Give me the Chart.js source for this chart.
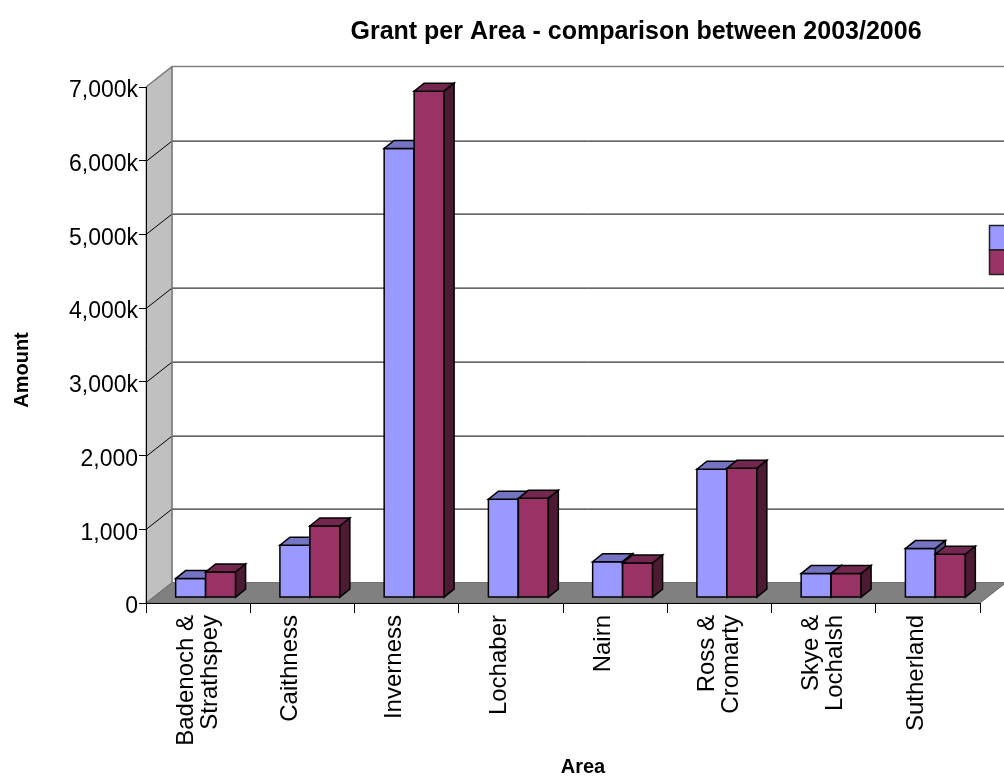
<!DOCTYPE html>
<html lang="en">
<head>
<meta charset="UTF-8">
<title>Grant per Area</title>
<script src="https://cdn.jsdelivr.net/npm/chart.js"></script>
<style>
  html, body { margin: 0; padding: 0; background: #fff; overflow: hidden; }
</style>
</head>
<body>
<canvas id="grantChart" width="1004" height="778"></canvas>
<script>
// grant per area, two years
const areas = [['Badenoch &', 'Strathspey'], 'Caithness', 'Inverness', 'Lochaber', 'Nairn',
               ['Ross &', 'Cromarty'], ['Skye &', 'Lochalsh'], 'Sutherland'];
const grant2003 = [258, 710, 6092, 1334, 488, 1741, 326, 665];
const grant2006 = [347, 971, 6870, 1347, 469, 1754, 326, 588];
const seriesNames = ['2003', '2006'];
const amountTicks = ['0', '1,000', '2,000', '3,000k', '4,000k', '5,000k', '6,000k', '7,000k'];

const FONT = "'Liberation Sans', Arial, sans-serif";
const BLUE = '#9999ff';
const PLUM = '#993366';

// oblique depth of the walls, where the bars stand, and how deep they are
const WALL = { dx: 26, dy: -20.4 };
const BAR_SHIFT = { dx: 7.5, dy: -5.4 };
const BAR_DEPTH = { dx: 10, dy: -8 };

function shade(hex, f) {
  const n = parseInt(hex.slice(1), 16);
  const r = Math.round(((n >> 16) & 255) * f);
  const g = Math.round(((n >> 8) & 255) * f);
  const b = Math.round((n & 255) * f);
  return 'rgb(' + r + ',' + g + ',' + b + ')';
}

function poly(ctx, pts, fill, stroke) {
  ctx.beginPath();
  ctx.moveTo(pts[0][0], pts[0][1]);
  for (let i = 1; i < pts.length; i++) ctx.lineTo(pts[i][0], pts[i][1]);
  ctx.closePath();
  if (fill) { ctx.fillStyle = fill; ctx.fill(); }
  if (stroke) { ctx.strokeStyle = stroke; ctx.stroke(); }
}

function drawBox(ctx, el, color) {
  const l = el.x - el.width / 2, r = el.x + el.width / 2;
  const t = el.y, b = el.base;
  const d = BAR_DEPTH;
  poly(ctx, [[l, t], [r, t], [r, b], [l, b]], color, '#000');
  poly(ctx, [[l, t], [r, t], [r + d.dx, t + d.dy], [l + d.dx, t + d.dy]], shade(color, 0.76), '#000');
  poly(ctx, [[r, t], [r + d.dx, t + d.dy], [r + d.dx, b + d.dy], [r, b]], shade(color, 0.5), '#000');
}

const box3d = {
  id: 'box3d',
  afterLayout(chart) {
    // keep the title over the plot rather than the whole canvas
    const t = chart.titleBlock;
    const shift = 636 - (t.left + t.right) / 2;
    t.left += shift;
    t.right += shift;
  },
  beforeDraw(chart) {
    const { ctx, chartArea: a, scales: { y } } = chart;
    const y0 = y.getPixelForValue(0);
    const yTop = y.getPixelForValue(y.max);
    const w = WALL;
    ctx.save();
    ctx.lineWidth = 1;

    // side wall
    poly(ctx, [[a.left, y0], [a.left, yTop], [a.left + w.dx, yTop + w.dy], [a.left + w.dx, y0 + w.dy]],
         '#c0c0c0', '#808080');

    // gridlines across the side and back walls
    ctx.strokeStyle = '#000';
    y.ticks.forEach(tk => {
      if (tk.value === 0 || tk.value === y.max) return;
      const py = Math.round(y.getPixelForValue(tk.value)) + 0.5;
      ctx.beginPath();
      ctx.moveTo(a.left, py);
      ctx.lineTo(a.left + w.dx, py + w.dy);
      ctx.lineTo(a.right + w.dx + 40, py + w.dy);
      ctx.stroke();
    });

    // back wall outline
    ctx.strokeStyle = '#808080';
    ctx.lineWidth = 1.5;
    ctx.beginPath();
    ctx.moveTo(a.left, yTop);
    ctx.lineTo(a.left + w.dx, yTop + w.dy);
    ctx.lineTo(a.right + w.dx + 40, yTop + w.dy);
    ctx.moveTo(a.left + w.dx, yTop + w.dy);
    ctx.lineTo(a.left + w.dx, y0 + w.dy);
    ctx.stroke();

    // floor
    ctx.lineWidth = 1;
    poly(ctx, [[a.left, y0], [a.right, y0], [a.right + w.dx, y0 + w.dy], [a.left + w.dx, y0 + w.dy]],
         '#808080', '#6a6a6a');
    ctx.beginPath();
    ctx.moveTo(a.right + w.dx, y0 + w.dy);
    ctx.lineTo(a.right + w.dx + 40, y0 + w.dy);
    ctx.stroke();
    ctx.restore();
  },
  beforeDatasetsDraw(chart) {
    const { ctx } = chart;
    const metas = [chart.getDatasetMeta(0), chart.getDatasetMeta(1)];
    ctx.save();
    ctx.lineWidth = 1.5;
    ctx.lineJoin = 'miter';
    ctx.translate(BAR_SHIFT.dx, BAR_SHIFT.dy);
    // bars go category by category so each right-hand box covers its neighbour's side
    for (let i = 0; i < areas.length; i++) {
      metas.forEach((m, k) => {
        drawBox(ctx, m.data[i], chart.data.datasets[k].backgroundColor);
      });
    }
    ctx.restore();
    return false;
  },
  afterDraw(chart) {
    const { ctx, scales: { x, y } } = chart;
    ctx.save();

    // axis titles
    ctx.fillStyle = '#000';
    ctx.font = 'bold 20px ' + FONT;
    ctx.textAlign = 'center';
    ctx.textBaseline = 'middle';
    ctx.fillText(x.options.title.text, 583, 767);
    ctx.translate(22, 370);
    ctx.rotate(-Math.PI / 2);
    ctx.fillText(y.options.title.text, 0, 0);
    ctx.setTransform(1, 0, 0, 1, 0, 0);

    // legend keys, running off the right edge
    ctx.lineWidth = 1.5;
    ctx.strokeStyle = '#222';
    chart.data.datasets.forEach((ds, k) => {
      const top = 225.5 + k * 24.5;
      ctx.fillStyle = ds.backgroundColor;
      ctx.fillRect(989.5, top, 24, 24.5);
      ctx.strokeRect(989.5, top, 24, 24.5);
    });
    ctx.restore();
  }
};

new Chart(document.getElementById('grantChart'), {
  type: 'bar',
  data: {
    labels: areas,
    datasets: [
      { label: seriesNames[0], data: grant2003, backgroundColor: BLUE },
      { label: seriesNames[1], data: grant2006, backgroundColor: PLUM }
    ]
  },
  options: {
    responsive: false,
    animation: false,
    events: [],
    categoryPercentage: 0.575,
    barPercentage: 1,
    layout: { padding: { left: 0, right: 24, top: 0, bottom: 0 } },
    plugins: {
      legend: { display: false },
      tooltip: { enabled: false },
      title: {
        display: true,
        text: 'Grant per Area - comparison between 2003/2006',
        color: '#000',
        font: { family: FONT, size: 25, weight: 'bold', lineHeight: 1.2 },
        padding: { top: 17, bottom: 40 }
      }
    },
    scales: {
      x: {
        afterFit(s) { s.height = 175; },
        grid: { display: true, drawOnChartArea: false, drawTicks: true, tickLength: 10, color: '#000', offset: true },
        border: { display: true, color: '#000', width: 1 },
        ticks: {
          autoSkip: false, maxRotation: 90, minRotation: 90, padding: 2, labelOffset: -12,
          color: '#000', font: { family: FONT, size: 24, lineHeight: 1.0 }
        },
        title: { display: false, text: 'Area' }
      },
      y: {
        min: 0, max: 7000,
        afterFit(s) { s.width = 146; },
        grid: { display: true, drawOnChartArea: false, drawTicks: true, tickLength: 7, color: '#000' },
        border: { display: true, color: '#000', width: 1 },
        ticks: {
          stepSize: 1000, padding: 1, labelOffset: 4, color: '#000',
          font: { family: FONT, size: 23 },
          callback: (v, i) => amountTicks[i]
        },
        title: { display: false, text: 'Amount' }
      }
    }
  },
  plugins: [box3d]
});
</script>
</body>
</html>
